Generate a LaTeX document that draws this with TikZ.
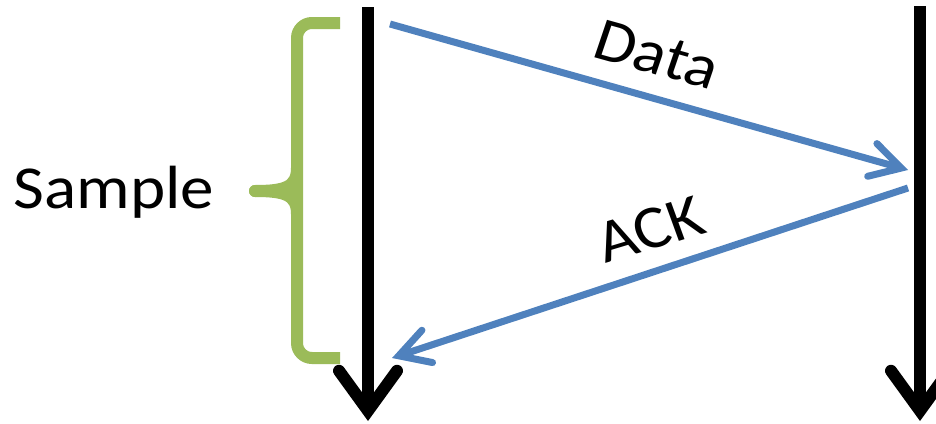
\documentclass[tikz,border=0pt]{standalone}
\usepackage{fontspec}
\setmainfont{Carlito}
\usetikzlibrary{arrows.meta}
\definecolor{bracegreen}{HTML}{9BBB59}
\definecolor{msgblue}{HTML}{4F81BD}

\begin{document}
\begin{tikzpicture}[x=1pt,y=-1pt,
  lane/.style={line width=12pt,
    -{Straight Barb[length=40pt,width=58pt,line cap=round,line join=miter]}},
  msg/.style={draw=msgblue,line width=7pt,
    -{Straight Barb[length=30pt,width=34pt,line cap=round,line join=miter]}},
  bracepart/.style={draw=bracegreen,line width=12pt},
  lbl/.style={inner sep=0pt,anchor=base,font=\fontsize{61}{72}\selectfont}]
\useasboundingbox (0,0) rectangle (936,423);

% timelines
\coordinate (aTop) at (368,7);
\coordinate (aEnd) at (368,421);
\coordinate (bTop) at (920,6);
\coordinate (bEnd) at (920,421);
\draw[lane] (aTop) -- (aEnd);
\draw[lane] (bTop) -- (bEnd);

% messages
\coordinate (dStart) at (390,24);
\coordinate (dEnd) at (908,170);
\coordinate (kStart) at (908,188);
\coordinate (kEnd) at (392,358);
\draw[msg] (dStart) -- (dEnd);
\draw[msg] (kStart) -- (kEnd);

% brace marking the sample interval
\coordinate (brTop) at (340,23);
\coordinate (brBot) at (340,358);
\coordinate (brTip) at (255,191);
\draw[bracepart,line cap=butt,rounded corners=15pt]
  (brTop) -- (297,23) -- (297,358) -- (brBot);
\draw[bracepart,line cap=round]
  (297,168) .. controls (297,187) and (285,191) .. (brTip);
\draw[bracepart,line cap=round]
  (297,214) .. controls (297,195) and (285,191) .. (brTip);

% labels
\begin{scope}[xscale=1.1,transform shape]
  \node[lbl] (sample) at (103.6,208) {Sample};
  \node[lbl,rotate=-17.1] (data) at (591.8,73) {Data};
  \node[lbl,rotate=18.3] (ack) at (597.3,248) {ACK};
\end{scope}
\end{tikzpicture}
\end{document}
